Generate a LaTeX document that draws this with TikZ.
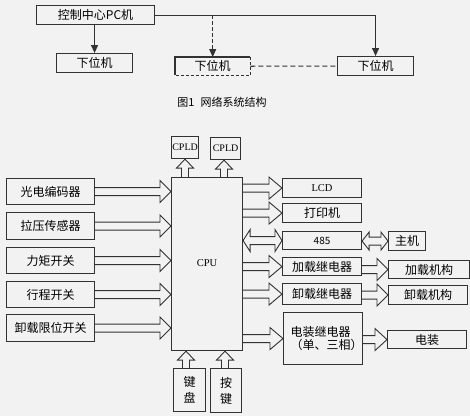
\documentclass[tikz,border=0pt]{standalone}
\usepackage{fontspec}
\setmainfont{Noto Sans CJK SC}
\newfontfamily\latf{Liberation Serif}
\usetikzlibrary{arrows.meta,calc}
\definecolor{bg}{RGB}{242,242,242}
\definecolor{ln}{RGB}{50,50,50}
\tikzset{
  bx/.style={draw=ln,line width=1.1pt,anchor=north west,inner sep=0pt,font=\fontsize{12}{14}\selectfont},
  hol/.style={draw=ln,line width=0.9pt,line join=miter},
  conn/.style={draw=ln,line width=1.1pt,-{Triangle[length=8pt,width=7pt]}},
  latlab/.style={font=\latf\fontsize{10.5}{12}\selectfont},
}
% box: name, x1, y1, x2, y2, text
\newcommand\bbox[6]{\node[bx,minimum width=#4pt-#2pt,minimum height=#5pt-#3pt] (#1) at (#2,#3) {};
  \node[font=\fontsize{12}{14}\selectfont] at (#1.center) {#6};}
% right hollow arrow: from node #1 (east) to node #2 (west), y taken from node #3
\newcommand\rarr[4]{\draw[hol] let \p1=(#1.east), \p2=(#2.west), \p3=(#3.center) in
  (\x1,\y3+\sh) -- (\x2-#4,\y3+\sh) -- (\x2-#4,\y3+\hh) -- (\x2,\y3) -- (\x2-#4,\y3-\hh) -- (\x2-#4,\y3-\sh) -- (\x1,\y3-\sh);}
\newcommand\darr[3]{\draw[hol] let \p1=(#1.east), \p2=(#2.west), \p3=(#3.center) in
  (\x1,\y3) -- (\x1+\hl,\y3+\hh) -- (\x1+\hl,\y3+\sh) -- (\x2-\hl,\y3+\sh) -- (\x2-\hl,\y3+\hh) -- (\x2,\y3) -- (\x2-\hl,\y3-\hh) -- (\x2-\hl,\y3-\sh) -- (\x1+\hl,\y3-\sh) -- (\x1+\hl,\y3-\hh) -- cycle;}
% up hollow arrow: from node #1 (north) to node #2 (south) at x=#3
\newcommand\uarr[3]{\draw[hol] let \p1=(#1.north), \p2=(#2.south), \p3=(#3,0) in
  (\x3-3.5pt,\y1) -- (\x3-3.5pt,\y2-9pt) -- (\x3-8.5pt,\y2-9pt) -- (\x3,\y2) -- (\x3+8.5pt,\y2-9pt) -- (\x3+3.5pt,\y2-9pt) -- (\x3+3.5pt,\y1);}
\def\sh{4pt}\def\hh{11pt}\def\hl{7pt}
\begin{document}
\begin{tikzpicture}[x=1pt,y=-1pt]
\fill[bg] (0,0) rectangle (470,416);
\useasboundingbox (0,0) rectangle (470,416);
% ---- network structure ----
\bbox{pc}{36}{5}{154}{24}{控制中心PC机}
\bbox{s1}{56}{53}{132}{72}{下位机}
\node[anchor=north west,inner sep=0pt,minimum width=75pt,minimum height=18pt] (s2) at (175,57) {};
\node[font=\fontsize{12}{14}\selectfont] at (s2.center) {下位机};
\draw[ln,line width=1.1pt] (s2.south west) -- (s2.north west) -- (s2.north east);
\draw[ln,line width=1pt,dashed,dash pattern=on 3pt off 2pt] (s2.north east) -- (s2.south east) -- (s2.south west);
\bbox{s3}{337}{56}{413}{75}{下位机}
\draw[conn] (pc.east) -| (s3.north);
\draw[conn] (s1.north |- pc.south) -- (s1.north);
\draw[conn,dashed,dash pattern=on 4pt off 2pt] (pc.east -| s2.north) -- (s2.north);
\draw[ln,line width=1.1pt,dashed,dash pattern=on 5pt off 3pt] (s2.east) -- (s3.west);
\node[font=\fontsize{11}{13}\selectfont] (cap) at (222,102) {图1\hspace{6pt}网络系统结构};
% ---- controller structure ----
\node[bx,minimum width=71pt,minimum height=173pt] (cpu) at (171,177) {};
\node[latlab] at (207,263) {CPU};
\node[bx,minimum width=27pt,minimum height=22pt] (c1) at (171,136) {};
\node[latlab,font=\latf\fontsize{10}{12}\selectfont] at (c1.center) {CPLD};
\node[bx,minimum width=30pt,minimum height=22pt] (c2) at (210,137) {};
\node[latlab,font=\latf\fontsize{10}{12}\selectfont] at (c2.center) {CPLD};
\uarr{cpu}{c1}{185}
\uarr{cpu}{c2}{224}
\bbox{b1}{6}{178}{94}{204}{光电编码器}
\bbox{b2}{6}{212}{94}{239}{拉压传感器}
\bbox{b3}{6}{247}{94}{273}{力矩开关}
\bbox{b4}{6}{281}{94}{307}{行程开关}
\bbox{b5}{6}{314}{94}{341}{卸载限位开关}
\rarr{b1}{cpu}{b1}{11pt}
\rarr{b2}{cpu}{b2}{11pt}
\rarr{b3}{cpu}{b3}{11pt}
\rarr{b4}{cpu}{b4}{11pt}
\rarr{b5}{cpu}{b5}{11pt}
\node[bx,minimum width=32pt,minimum height=43pt] (kb) at (173,368) {};
\node[font=\fontsize{12}{16}\selectfont,align=center] at (kb.center) {键\\盘};
\node[bx,minimum width=31pt,minimum height=44pt] (ak) at (210,368) {};
\node[font=\fontsize{12}{16}\selectfont,align=center] at (ak.center) {按\\键};
\uarr{kb}{cpu}{186}
\uarr{ak}{cpu}{225}
\node[bx,minimum width=79pt,minimum height=19pt] (lcd) at (282,178) {};
\node[latlab] at (lcd.center) {LCD};
\bbox{pr}{282}{203}{361}{222}{打印机}
\node[bx,minimum width=79pt,minimum height=18pt] (r485) at (282,231) {};
\node[font=\fontsize{10}{12}\selectfont] at (r485.center) {485};
\bbox{host}{388}{231}{425}{250}{主机}
\bbox{jz}{282}{257}{361}{275}{加载继电器}
\bbox{jzjg}{388}{260}{469}{278}{加载机构}
\bbox{xz}{282}{283}{361}{304}{卸载继电器}
\bbox{xzjg}{388}{285}{467}{304}{卸载机构}
\node[bx,minimum width=79pt,minimum height=52pt] (dz) at (283,312) {};
\node[font=\fontsize{12}{13}\selectfont,align=left,anchor=west] at ($(dz.west)+(4,0)$) {电装继电器\\（单、三相）};
\bbox{dzb}{387}{330}{466}{348}{电装}
\rarr{cpu}{lcd}{lcd}{13pt}
\rarr{cpu}{pr}{pr}{13pt}
\darr{cpu}{r485}{r485}
\rarr{cpu}{jz}{jz}{13pt}
\rarr{cpu}{xz}{xz}{13pt}
\rarr{cpu}{dz}{dz}{13pt}
\begingroup\def\hh{9pt}\def\hl{7pt}
\darr{r485}{host}{host}
\endgroup
\rarr{jz}{jzjg}{jzjg}{11pt}
\rarr{xz}{xzjg}{xzjg}{11pt}
\rarr{dz}{dzb}{dzb}{12pt}
\end{tikzpicture}
\end{document}
